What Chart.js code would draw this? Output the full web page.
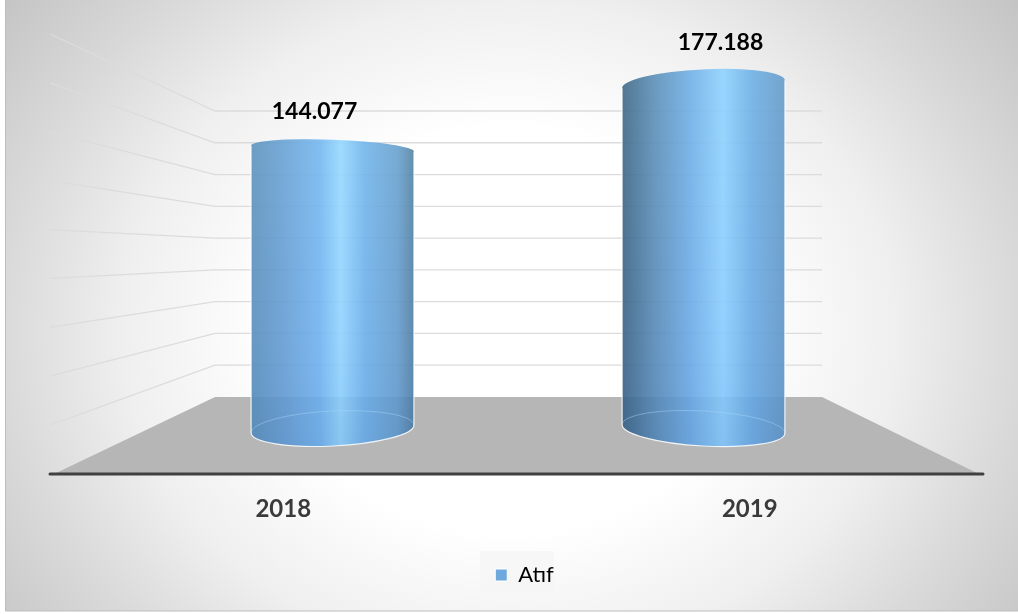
<!DOCTYPE html>
<html>
<head>
<meta charset="utf-8">
<style>
  html, body { margin: 0; padding: 0; background: #fff; }
  #wrap { width: 1018px; height: 614px; position: relative; }
</style>
<script src="https://cdn.jsdelivr.net/npm/chart.js@4"></script>
</head>
<body>
<div id="wrap"><canvas id="chart"></canvas></div>
<script>
const categories = ['2018', '2019'];
const years = [2018, 2019];
const citations = [144077, 177188];
const valueLabels = ['144.077', '177.188'];
const seriesName = 'Atıf';

// perspective tweaks per bar, in pixels
const topTilt = [6, -8];
const baseTilt = [-8, 9];
const topRadius = [9, 15];
const labelShift = [[-18, -37], [17, -42]];
const sideStops = [
    [[0, '#558bb6'], [0.18, '#6299cd'], [0.42, '#70b2ee'], [0.55, '#94d6ff'], [0.7, '#6cafe8'], [0.9, '#6299c8'], [1, '#4b7899']],
    [[0, '#345a78'], [0.2, '#5586b0'], [0.42, '#6baae4'], [0.62, '#8dd0ff'], [0.8, '#69aae2'], [1, '#5e93c2']]
];

// background card and legend box
const backdropPlugin = {
    id: 'backdrop',
    afterLayout(chart) {
        chart.legend.left += 8;
        chart.legend.right += 8;
    },
    beforeDraw(chart) {
        const ctx = chart.ctx;
        ctx.save();
        ctx.fillStyle = '#fff';
        ctx.fillRect(0, 0, chart.width, chart.height);
        ctx.beginPath();
        ctx.rect(5.5, -2, 1020, 613);
        ctx.save();
        ctx.clip();
        ctx.translate(509, 330);
        ctx.scale(1, 0.85);
        const g = ctx.createRadialGradient(0, 0, 0, 0, 0, 680);
        g.addColorStop(0, '#ffffff');
        g.addColorStop(0.35, '#ffffff');
        g.addColorStop(0.57, '#efefef');
        g.addColorStop(0.75, '#d9d9d9');
        g.addColorStop(0.94, '#c4c4c4');
        g.addColorStop(1, '#c0c0c0');
        ctx.fillStyle = g;
        ctx.fillRect(-600, -500, 1200, 1000);
        ctx.restore();
        ctx.strokeStyle = '#bdbdbd';
        ctx.lineWidth = 1;
        ctx.stroke();

        // legend box
        ctx.fillStyle = 'rgba(245,245,245,0.7)';
        ctx.fillRect(480, 551, 74, 45);
        ctx.restore();
    },
    beforeDatasetsDraw(chart) {
        const { ctx, chartArea: area, scales } = chart;
        const wallLeft = area.left + 165;
        const wallRight = area.right - 161;
        const floorY = scales.yWall.getPixelForValue(0);
        ctx.save();

        // floor
        ctx.fillStyle = '#b6b6b6';
        ctx.beginPath();
        ctx.moveTo(wallLeft, floorY);
        ctx.lineTo(wallRight, floorY);
        ctx.lineTo(area.right - 4, area.bottom);
        ctx.lineTo(area.left + 4, area.bottom);
        ctx.closePath();
        ctx.fill();

        // grid lines: back wall, then side wall running out to the front plane
        scales.yFront.ticks.forEach(t => {
            if (t.value === 0) return;
            const yBack = scales.yWall.getPixelForValue(t.value);
            const yFront = scales.yFront.getPixelForValue(t.value);
            ctx.strokeStyle = '#dcdcdc';
            ctx.lineWidth = 1.3;
            ctx.beginPath();
            ctx.moveTo(area.left, yFront);
            ctx.lineTo(wallLeft, yBack);
            ctx.lineTo(wallRight, yBack);
            ctx.stroke();
        });

        // base line
        ctx.strokeStyle = '#404040';
        ctx.lineWidth = 3;
        ctx.lineCap = 'round';
        ctx.beginPath();
        ctx.moveTo(area.left, area.bottom);
        ctx.lineTo(area.right, area.bottom);
        ctx.stroke();
        ctx.restore();
    }
};

// each bar element is painted as a see-through cylinder
const cylinderPlugin = {
    id: 'cylinder',
    afterDatasetsDraw(chart) {
        const ctx = chart.ctx;
        chart.getDatasetMeta(0).data.forEach((bar, i) => {
            const rx = bar.width / 2;
            const left = bar.x - rx;
            const right = bar.x + rx;
            const rotTop = Math.atan2(topTilt[i], bar.width);
            const rotBase = Math.atan2(baseTilt[i], bar.width);

            const outline = () => {
                ctx.beginPath();
                ctx.ellipse(bar.x, bar.y, rx, topRadius[i], rotTop, Math.PI, 2 * Math.PI);
                ctx.ellipse(bar.x, bar.base, rx, 17, rotBase, 0, Math.PI);
                ctx.closePath();
            };

            ctx.save();
            const side = ctx.createLinearGradient(left, 0, right, 0);
            sideStops[i].forEach(s => side.addColorStop(s[0], s[1]));
            ctx.globalAlpha = 0.9;
            ctx.fillStyle = side;
            outline();
            ctx.fill();
            ctx.globalAlpha = 1;

            const tint = ctx.createLinearGradient(0, bar.y - topRadius[i], 0, bar.base + 17);
            tint.addColorStop(0, 'rgba(170,235,255,0.10)');
            tint.addColorStop(0.6, 'rgba(120,180,255,0.08)');
            tint.addColorStop(1, 'rgba(60,120,200,0.14)');
            ctx.fillStyle = tint;
            outline();
            ctx.fill();

            // rim of the far side of the base
            ctx.strokeStyle = 'rgba(170,215,250,0.45)';
            ctx.lineWidth = 1;
            ctx.beginPath();
            ctx.ellipse(bar.x, bar.base, rx, 18, rotBase, Math.PI, 2 * Math.PI);
            ctx.stroke();

            // light edge down the sides and round the near side of the base
            ctx.strokeStyle = 'rgba(255,255,255,0.85)';
            ctx.lineWidth = 1.2;
            ctx.beginPath();
            ctx.moveTo(right, bar.y + topTilt[i] / 2);
            ctx.ellipse(bar.x, bar.base, rx, 17, rotBase, 0, Math.PI);
            ctx.lineTo(left, bar.y - topTilt[i] / 2);
            ctx.stroke();
            ctx.restore();

            // value label
            ctx.save();
            ctx.fillStyle = '#000';
            ctx.font = 'bold 23px Lato';
            ctx.textAlign = 'center';
            ctx.textBaseline = 'middle';
            ctx.fillText(valueLabels[i], bar.x + labelShift[i][0], bar.y + labelShift[i][1]);
            ctx.restore();
        });
    }
};

new Chart(document.getElementById('chart'), {
    type: 'bar',
    data: {
        datasets: [{
            label: seriesName,
            data: years.map((y, i) => ({ x: y, y: citations[i] })),
            xAxisID: 'xBar',
            yAxisID: 'y',
            backgroundColor: 'rgba(0,0,0,0)',
            borderWidth: 0,
            barThickness: 163
        }]
    },
    plugins: [backdropPlugin, cylinderPlugin],
    options: {
        responsive: true,
        maintainAspectRatio: false,
        animation: false,
        layout: { padding: { left: 50, right: 35, top: 34, bottom: 18 } },
        plugins: {
            tooltip: { enabled: false },
            legend: {
                position: 'bottom',
                labels: {
                    color: '#505050',
                    font: { family: 'Lato', size: 22 },
                    boxWidth: 12,
                    boxHeight: 12,
                    padding: 12,
                    generateLabels: () => [{
                        text: seriesName,
                        fillStyle: '#6fa8dc',
                        strokeStyle: '#ffffff',
                        lineWidth: 1,
                        datasetIndex: 0
                    }]
                }
            }
        },
        scales: {
            x: {
                type: 'category',
                labels: categories,
                position: 'bottom',
                afterFit(scale) { scale.height = 78; },
                grid: { display: false },
                border: { display: false },
                ticks: { color: '#3a3a3a', font: { family: 'Lato', size: 24, weight: 'bold' }, padding: 13 }
            },
            // bars stand on a narrower plane than the axis labels
            xBar: { type: 'linear', display: false, offset: false, min: 2017.2385, max: 2019.7534 },
            y: { type: 'linear', display: false, min: -23136, max: 203085 },
            // same tick values as seen on the back wall and on the front edge
            yWall: { type: 'linear', display: false, min: -48461, max: 228459 },
            yFront: { type: 'linear', display: false, min: 0, max: 180000, ticks: { stepSize: 20000 } }
        }
    }
});
</script>
</body>
</html>
